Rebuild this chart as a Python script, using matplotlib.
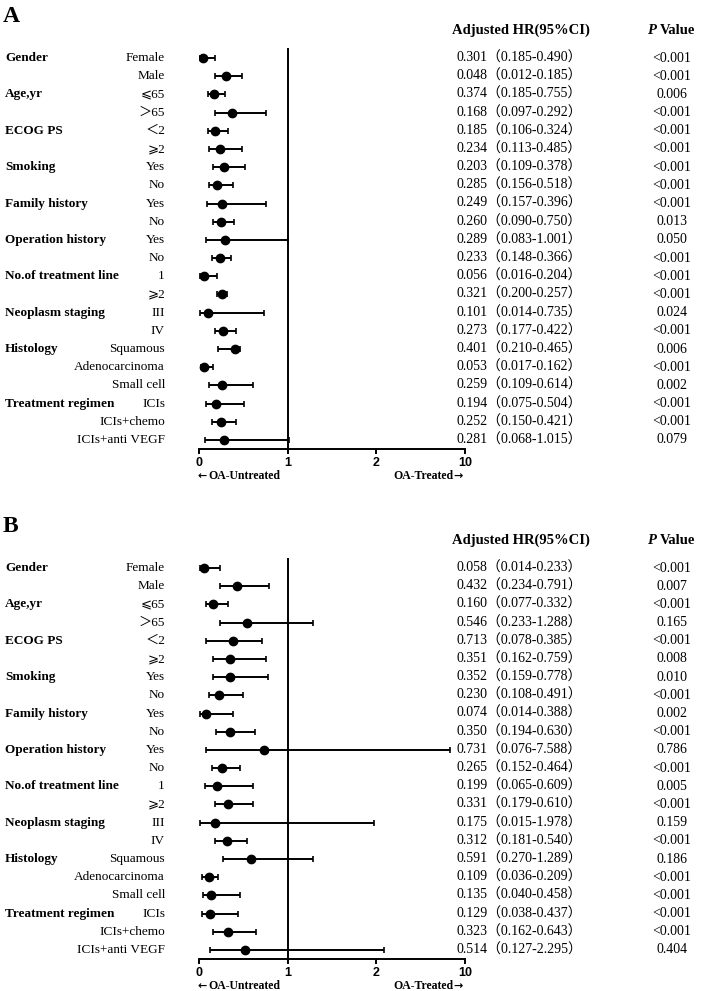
import matplotlib
matplotlib.use('Agg')
import matplotlib.pyplot as plt
import matplotlib.transforms as mtransforms
import numpy as np

SERIF = ['Liberation Serif', 'DejaVu Serif', 'Noto Sans CJK SC', 'DejaVu Sans']
SANS = ['Liberation Sans', 'DejaVu Sans']

# ---- data ----
categories = ['Gender', 'Age,yr', 'ECOG PS', 'Smoking', 'Family history',
              'Operation history', 'No.of treatment line', 'Neoplasm staging',
              'Histology', 'Treatment regimen']
category_rows = [0, 2, 4, 6, 8, 10, 12, 14, 16, 19]
subgroups = ['Female', 'Male', '⩽65', '＞65', '＜2', '⩾2', 'Yes', 'No', 'Yes', 'No',
             'Yes', 'No', '1', '⩾2', 'III', 'IV', 'Squamous', 'Adenocarcinoma',
             'Small cell', 'ICIs', 'ICIs+chemo', 'ICIs+anti VEGF']
xticks = [0, 1, 2, 10]

# panel A, table columns
a_hr = [0.301, 0.048, 0.374, 0.168, 0.185, 0.234, 0.203, 0.285, 0.249, 0.260, 0.289,
        0.233, 0.056, 0.321, 0.101, 0.273, 0.401, 0.053, 0.259, 0.194, 0.252, 0.281]
a_lo = [0.185, 0.012, 0.185, 0.097, 0.106, 0.113, 0.109, 0.156, 0.157, 0.090, 0.083,
        0.148, 0.016, 0.200, 0.014, 0.177, 0.210, 0.017, 0.109, 0.075, 0.150, 0.068]
a_hi = [0.490, 0.185, 0.755, 0.292, 0.324, 0.485, 0.378, 0.518, 0.396, 0.750, 1.001,
        0.366, 0.204, 0.257, 0.735, 0.422, 0.465, 0.162, 0.614, 0.504, 0.421, 1.015]
a_p = ['<0.001', '<0.001', '0.006', '<0.001', '<0.001', '<0.001', '<0.001', '<0.001',
       '<0.001', '0.013', '0.050', '<0.001', '<0.001', '<0.001', '0.024', '<0.001',
       '0.006', '<0.001', '0.002', '<0.001', '<0.001', '0.079']
# panel A, points as drawn in the plot
a_dot = [0.048, 0.301, 0.168, 0.374, 0.185, 0.234, 0.285, 0.203, 0.260, 0.249, 0.289,
         0.233, 0.056, 0.257, 0.101, 0.273, 0.401, 0.053, 0.259, 0.194, 0.252, 0.281]
a_dot_lo = [0.012, 0.185, 0.097, 0.185, 0.106, 0.113, 0.156, 0.109, 0.090, 0.157, 0.083,
            0.148, 0.016, 0.200, 0.014, 0.177, 0.210, 0.017, 0.109, 0.075, 0.150, 0.068]
a_dot_hi = [0.185, 0.490, 0.292, 0.755, 0.324, 0.485, 0.518, 0.378, 0.750, 0.396, 1.001,
            0.366, 0.204, 0.321, 0.735, 0.422, 0.465, 0.162, 0.614, 0.504, 0.421, 1.015]

# panel B, table columns
b_hr = [0.058, 0.432, 0.160, 0.546, 0.713, 0.351, 0.352, 0.230, 0.074, 0.350, 0.731,
        0.265, 0.199, 0.331, 0.175, 0.312, 0.591, 0.109, 0.135, 0.129, 0.323, 0.514]
b_lo = [0.014, 0.234, 0.077, 0.233, 0.078, 0.162, 0.159, 0.108, 0.014, 0.194, 0.076,
        0.152, 0.065, 0.179, 0.015, 0.181, 0.270, 0.036, 0.040, 0.038, 0.162, 0.127]
b_hi = [0.233, 0.791, 0.332, 1.288, 0.385, 0.759, 0.778, 0.491, 0.388, 0.630, 7.588,
        0.464, 0.609, 0.610, 1.978, 0.540, 1.289, 0.209, 0.458, 0.437, 0.643, 2.295]
b_p = ['<0.001', '0.007', '<0.001', '0.165', '<0.001', '0.008', '0.010', '<0.001',
       '0.002', '<0.001', '0.786', '<0.001', '0.005', '<0.001', '0.159', '<0.001',
       '0.186', '<0.001', '<0.001', '<0.001', '<0.001', '0.404']
# panel B, points as drawn in the plot
b_dot = [0.058, 0.432, 0.160, 0.546, 0.385, 0.351, 0.352, 0.230, 0.074, 0.350, 0.731,
         0.265, 0.199, 0.331, 0.175, 0.312, 0.591, 0.109, 0.135, 0.129, 0.323, 0.514]
b_dot_lo = [0.014, 0.234, 0.077, 0.233, 0.078, 0.162, 0.159, 0.108, 0.014, 0.194, 0.076,
            0.152, 0.065, 0.179, 0.015, 0.181, 0.270, 0.036, 0.040, 0.038, 0.162, 0.127]
b_dot_hi = [0.233, 0.791, 0.332, 1.288, 0.713, 0.759, 0.778, 0.491, 0.388, 0.630, 7.588,
            0.464, 0.609, 0.610, 1.978, 0.540, 1.289, 0.209, 0.458, 0.437, 0.643, 2.295]

W, H = 702, 991


def fx(px):
    return px / W


def fy(py):
    return 1 - py / H


# 0-2 linear, 2-10 log segment of the same width
def fwd(x):
    x = np.asarray(x, dtype=float)
    return np.where(x <= 2, x, 2 + np.log(np.maximum(x, 2) / 2) / np.log(5))


def inv(y):
    y = np.asarray(y, dtype=float)
    return np.where(y <= 2, y, 2 * 5 ** (np.maximum(y, 2) - 2))


def draw_panel(fig, top, letter, dot, dot_lo, dot_hi, hr, lo, hi, pvals):
    # top = pixel row of the first subgroup
    step = 18.19
    n = len(subgroups)
    y_top = top - 10
    y_axis = top + (n - 1) * step + 9
    ax = fig.add_axes([fx(199), fy(y_axis), fx(465 - 199), (y_axis - y_top) / H])
    ax.set_xscale('function', functions=(fwd, inv))
    ax.set_xlim(0, 10)
    ax.set_ylim(n - 1 + 9 / step, -10 / step)
    rows = np.arange(n)

    ax.axvline(1, color='black', lw=1.4)
    ax.errorbar(dot, rows,
                xerr=[np.subtract(dot, dot_lo), np.subtract(dot_hi, dot)],
                fmt='o', color='black', ms=6, elinewidth=1.4,
                capsize=2.4, capthick=1.2)

    for s in ['top', 'left', 'right']:
        ax.spines[s].set_visible(False)
    ax.spines['bottom'].set_linewidth(1.4)
    ax.set_yticks([])
    ax.set_xticks(xticks)
    ax.set_xticklabels([str(t) for t in xticks], family=SANS, fontsize=9,
                       fontweight='bold')
    ax.tick_params(axis='x', length=3.5, width=1.4, pad=2)

    tr = mtransforms.blended_transform_factory(fig.transFigure, ax.transData)
    for name, r in zip(categories, category_rows):
        ax.text(fx(5), r, name, transform=tr, family=SERIF, fontsize=9.5,
                fontweight='bold', ha='left', va='center')
    for r, name in enumerate(subgroups):
        ax.text(fx(165), r, name, transform=tr, family=SERIF, fontsize=9.5,
                ha='right', va='center')
        ax.text(fx(457), r, '%.3f（%.3f-%.3f）' % (hr[r], lo[r], hi[r]),
                transform=tr, family=SERIF, fontsize=10, ha='left', va='center')
        ax.text(fx(672), r, pvals[r], transform=tr, family=SERIF, fontsize=10,
                ha='center', va='center')

    fig.text(fx(3), fy(top - 42), letter, family=SERIF, fontsize=17,
             fontweight='bold', ha='left', va='center')
    fig.text(fx(452), fy(top - 28), 'Adjusted HR(95%CI)', family=SERIF,
             fontsize=10.5, fontweight='bold', ha='left', va='center')
    fig.text(fx(647), fy(top - 28), 'P', family=SERIF, fontsize=10.5,
             fontweight='bold', style='italic', ha='left', va='center')
    fig.text(fx(660), fy(top - 28), 'Value', family=SERIF, fontsize=10.5,
             fontweight='bold', ha='left', va='center')

    # axis direction labels, arrows drawn in a heavier sans face
    ly = fy(y_axis + 27)
    fig.text(fx(198), ly, '←', family='DejaVu Sans', fontsize=8,
             fontweight='bold', ha='left', va='center')
    fig.text(fx(208), ly, 'OA-Untreated', family=SERIF, fontsize=8.5,
             fontweight='bold', ha='left', va='center')
    fig.text(fx(463), ly, '→', family='DejaVu Sans', fontsize=8,
             fontweight='bold', ha='right', va='center')
    fig.text(fx(453), ly, 'OA-Treated', family=SERIF, fontsize=8.5,
             fontweight='bold', ha='right', va='center')


def main():
    fig = plt.figure(figsize=(W / 100, H / 100), dpi=100)
    draw_panel(fig, 58, 'A', a_dot, a_dot_lo, a_dot_hi, a_hr, a_lo, a_hi, a_p)
    draw_panel(fig, 568, 'B', b_dot, b_dot_lo, b_dot_hi, b_hr, b_lo, b_hi, b_p)
    fig.savefig('out.png', dpi=100)
    plt.close(fig)


if __name__ == '__main__':
    main()
